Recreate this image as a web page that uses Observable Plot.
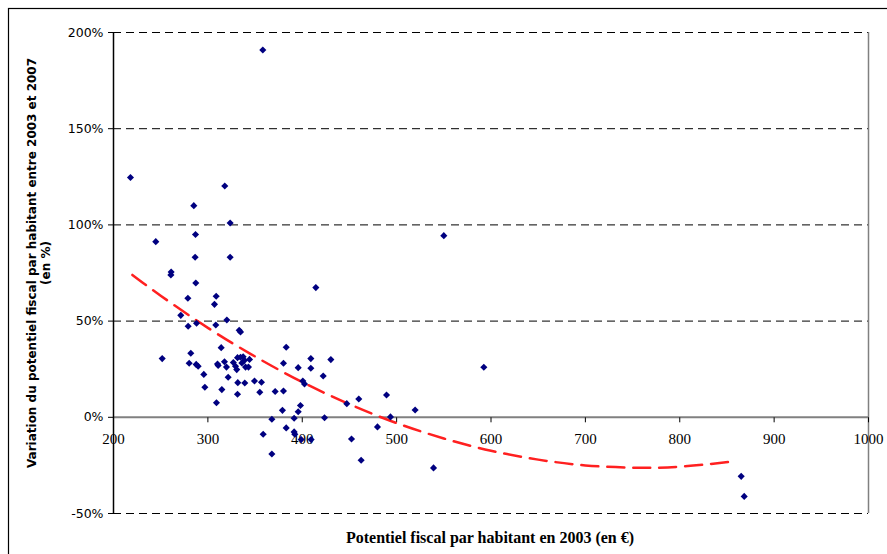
<!DOCTYPE html>
<html><head><meta charset="utf-8">
<script src="https://cdn.jsdelivr.net/npm/d3@7"></script>
<script src="https://cdn.jsdelivr.net/npm/@observablehq/plot@0.6"></script>
<style>html,body{margin:0;padding:0;background:#fff;overflow:hidden}</style>
</head><body><div id="chart"></div>
<script>
// Potentiel fiscal par habitant en 2003 (€)
const potentiel = [218, 244.8, 251.6, 261.1, 260.8, 271.3, 287.2, 278.8, 279.1, 288.0,
  281.9, 280.2, 287.6, 289.7, 295.7, 296.8, 309.1, 314.8, 307.0, 308.8,
  308.4, 320.1, 314.1, 310.2, 310.9, 317.6, 319.7, 321.5, 333.2, 334.6,
  331.4, 334.6, 337.4, 329.3, 330.6, 338.8, 339.9, 344.1, 343.0, 331.7,
  339.1, 331.4, 336.0, 327.0, 349.4, 356.8, 355.0, 371.3, 358.6, 367.8,
  367.8, 383.0, 380.1, 380.1, 379.0, 383.0, 391.4, 395.7, 400.6, 402.4,
  398.1, 395.7, 391.4, 392.1, 398.9, 409.4, 409.1, 409.1, 414.4, 422.2,
  423.6, 430.3, 447.2, 452.2, 459.9, 462.4, 479.7, 489.3, 493.5, 519.6,
  539.1, 592.4, 550.0, 865.1, 868.3, 358.2, 317.9, 285.1, 323.6, 286.9,
  286.5, 323.6];
// Variation 2003-2007 (%)
const variation = [124.6, 91.3, 30.5, 75.5, 74.0, 53.0, 69.8, 61.9, 47.3, 48.9,
  33.3, 28.1, 27.5, 26.5, 22.3, 15.6, 7.6, 14.4, 58.7, 62.9,
  48.0, 50.6, 36.2, 27.7, 26.9, 28.9, 26.1, 20.8, 45.2, 44.3,
  31.0, 31.2, 31.5, 26.5, 24.8, 29.6, 26.1, 30.1, 26.1, 18.0,
  17.8, 12.0, 28.2, 28.5, 18.9, 18.2, 13.0, 13.4, -8.8, -1.0,
  -19.1, 36.4, 28.1, 13.7, 3.6, -5.5, -0.5, 25.8, 18.9, 17.3,
  6.1, 2.9, -7.6, -8.8, -11.6, -11.6, 30.5, 25.5, 67.4, 21.5,
  -0.2, 30.0, 7.1, -11.3, 9.5, -22.3, -5.0, 11.6, 0.2, 3.8,
  -26.3, 26.0, 94.4, -30.7, -41.1, 190.9, 120.2, 110.0, 101.0, 95.0,
  83.2, 83.2];
// Trend curve
const trendX = [220, 250, 300, 350, 400, 450, 500, 550, 600, 650, 700, 750, 800, 860];
const trendY = [74.0, 63.2, 46.5, 31.6, 18.3, 6.8, -3.0, -11.0, -17.4, -22.0, -25.0, -26.2, -25.7, -22.8];
const xTicks = [200, 300, 400, 500, 600, 700, 800, 900, 1000];
const yTicks = [-50, 0, 50, 100, 150, 200];
const gridY = [-50, 50, 100, 150, 200];

const points = potentiel.map((x, i) => ({x, y: variation[i]}));
const trend = trendX.map((x, i) => ({x, y: trendY[i]}));
const tickSymbol = {draw(ctx) { ctx.moveTo(0, 0); ctx.lineTo(0, 5); }};

const chart = Plot.plot({
  width: 887, height: 554,
  marginLeft: 113, marginRight: 19, marginTop: 32, marginBottom: 41,
  x: {domain: [200, 1000], axis: null},
  y: {domain: [-50, 200]},
  style: {background: "white", color: "black"},
  marks: [
    Plot.ruleY(gridY, {stroke: "black", strokeDasharray: "8,5", strokeWidth: 1}),
    Plot.ruleY([0], {stroke: "#808080", strokeWidth: 2}),
    Plot.ruleX([1000], {stroke: "#808080", strokeWidth: 1.5}),
    Plot.ruleX([200], {stroke: "black", strokeWidth: 1.5}),
    Plot.axisY({ticks: yTicks, tickFormat: d => d + "%", tickSize: 5, tickPadding: 5, label: null,
      fontSize: 12.5, fontFamily: "DejaVu Sans"}),
    Plot.dot(xTicks, {x: d => d, y: () => 0, symbol: tickSymbol, stroke: "black", strokeWidth: 1, fill: "none"}),
    Plot.text(xTicks, {x: d => d, y: () => 0, dy: 22, text: d => String(d),
      fontFamily: "Liberation Serif", fontSize: 15, fill: "black"}),
    Plot.line(trend, {x: "x", y: "y", stroke: "#ff2020", strokeWidth: 2.5, strokeDasharray: "17,9", curve: "natural"}),
    Plot.dot(points, {x: "x", y: "y", symbol: "diamond2", r: 3.2, fill: "#000080", stroke: "none"})
  ]
});
document.getElementById("chart").appendChild(chart);

const svg = d3.select(chart);
svg.append("rect").attr("x", 8.5).attr("y", 8.5).attr("width", 900).attr("height", 600)
  .attr("fill", "none").attr("stroke", "black").attr("stroke-width", 1.2);
const gy = svg.append("g").attr("transform", "translate(39,263) rotate(-90)")
  .attr("font-family", "DejaVu Sans").attr("font-weight", "bold").attr("font-size", 12)
  .attr("text-anchor", "middle").attr("fill", "black");
gy.append("text").attr("y", -7).attr("dominant-baseline", "central")
  .text("Variation du potentiel fiscal par habitant entre 2003 et 2007");
gy.append("text").attr("y", 7).attr("dominant-baseline", "central").text("(en %)");
svg.append("text").attr("x", 490).attr("y", 537).attr("text-anchor", "middle")
  .attr("dominant-baseline", "central").attr("font-family", "Liberation Serif")
  .attr("font-weight", "bold").attr("font-size", 16).attr("fill", "black")
  .text("Potentiel fiscal par habitant en 2003 (en €)");
</script></body></html>
